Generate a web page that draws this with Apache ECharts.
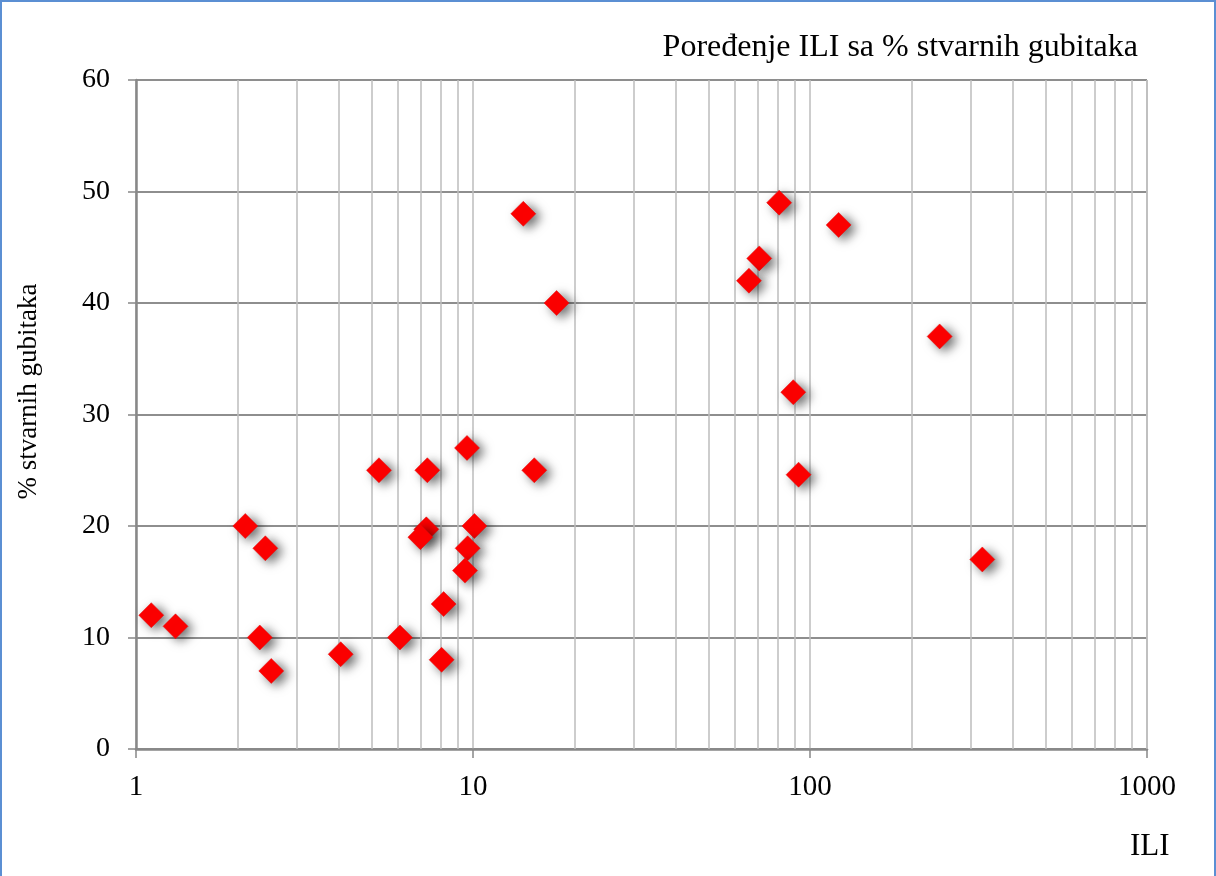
<!DOCTYPE html>
<html>
<head>
<meta charset="utf-8">
<title>Poređenje ILI sa % stvarnih gubitaka</title>
<script src="https://cdn.jsdelivr.net/npm/echarts@6/dist/echarts.min.js"></script>
<style>
  html, body { margin: 0; padding: 0; background: #fff; }
  #chart {
    width: 1216px; height: 876px; box-sizing: border-box;
    border: 2px solid #5b8fd3; border-bottom: none;
  }
</style>
</head>
<body>
<div id="chart"></div>
<script>
  // vrijednosti ILI (x, log osa) i % stvarnih gubitaka (y)
  const iliValues = [1.11, 1.31, 2.33, 2.52, 4.05, 6.07, 2.11, 2.42, 9.6, 5.26,
    7.32, 15.2, 7.27, 6.98, 10.1, 9.64, 9.47, 8.18, 8.07, 14.1,
    17.7, 81, 121.6, 70.7, 65.9, 242.5, 89.2, 92.5, 324.6]
  const lossValues = [12, 11, 10, 7, 8.5, 10, 20, 18, 27, 25,
    25, 25, 19.7, 19, 20, 18, 16, 13, 8, 48,
    40, 49, 47, 44, 42, 37, 32, 24.6, 17]

  // pomocne vertikalne linije mreze (2..9, 20..90, 200..900)
  const minorGridX = [2, 3, 4, 5, 6, 7, 8, 9,
    20, 30, 40, 50, 60, 70, 80, 90,
    200, 300, 400, 500, 600, 700, 800, 900, 1000]

  const serif = "'Liberation Serif', 'Times New Roman', serif"

  const chart = echarts.init(document.getElementById('chart'))

  const points = iliValues.map((v, i) => [v, lossValues[i]])

  const option = {
    animation: false,
    title: [
      {
        text: 'Poređenje ILI sa % stvarnih gubitaka',
        right: 71, top: 25,
        textStyle: { fontFamily: serif, fontSize: 32, fontWeight: 'normal', color: '#000' }
      },
      {
        text: 'ILI',
        left: 1123, top: 824,
        textStyle: { fontFamily: serif, fontSize: 31, fontWeight: 'normal', color: '#000' }
      }
    ],
    grid: { left: 134, right: 67, top: 78, bottom: 127 },
    xAxis: {
      type: 'log',
      logBase: 10,
      min: 1,
      max: 1000,
      axisLine: { lineStyle: { color: '#888', width: 2.5 } },
      axisTick: { show: true, length: 9, lineStyle: { color: '#888', width: 1.5 } },
      axisLabel: {
        fontFamily: serif, fontSize: 29, color: '#000', margin: 24,
        formatter: v => String(v)
      },
      splitLine: { show: true, lineStyle: { color: '#bcbcbc', width: 1.5 } }
    },
    yAxis: {
      type: 'value',
      min: 0,
      max: 60,
      interval: 10,
      name: '% stvarnih gubitaka',
      nameLocation: 'middle',
      nameRotate: 90,
      nameGap: 94,
      nameTextStyle: { fontFamily: serif, fontSize: 27, color: '#000', padding: [0, 0, 0, 46] },
      axisLine: { show: true, lineStyle: { color: '#888', width: 2.5 } },
      axisTick: { show: true, length: 8, lineStyle: { color: '#888', width: 1.5 } },
      axisLabel: { fontFamily: serif, fontSize: 28, color: '#000', margin: 26 },
      splitLine: { show: true, lineStyle: { color: '#8e8e8e', width: 2 } }
    },
    series: [
      {
        type: 'scatter',
        z: 3,
        data: points,
        symbol: 'diamond',
        symbolSize: 25,
        itemStyle: {
          color: '#ff0000',
          opacity: 1,
          borderColor: '#e01010',
          borderWidth: 0.5,
          shadowColor: 'rgba(0,0,0,0.6)',
          shadowBlur: 11,
          shadowOffsetX: 5,
          shadowOffsetY: 3
        },
        markLine: {
          silent: true,
          z: 1,
          symbol: ['none', 'none'],
          label: { show: false },
          lineStyle: { type: 'solid', color: '#bcbcbc', width: 1.5 },
          data: minorGridX.map(v => ({ xAxis: v }))
        }
      }
    ]
  }

  option && chart.setOption(option)
  window.addEventListener('resize', () => {
    chart.resize()
  })
</script>
</body>
</html>
